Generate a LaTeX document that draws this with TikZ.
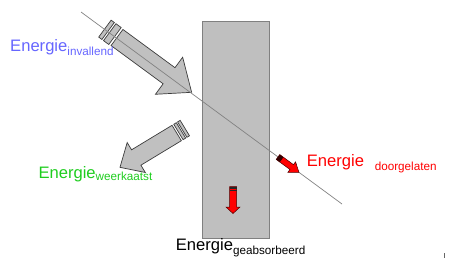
\documentclass[tikz,border=0pt]{standalone}
\usepackage{fontspec}
\setmainfont{Liberation Sans}
\definecolor{panelgray}{RGB}{191,191,191}
\definecolor{panelline}{RGB}{128,128,128}
\definecolor{arrowgray}{RGB}{192,192,192}
\definecolor{arrowline}{RGB}{60,60,60}
\definecolor{raygray}{RGB}{130,130,130}
\definecolor{txtblue}{RGB}{102,102,255}
\definecolor{txtgreen}{RGB}{30,205,30}
\definecolor{txtred}{RGB}{255,0,0}
\definecolor{arrowred}{RGB}{255,0,0}
\newcommand{\bigtxt}{\fontsize{16.6}{18}\selectfont}
\newcommand{\subtxt}{\fontsize{11.7}{13}\selectfont}
\begin{document}
\begin{tikzpicture}[x=1pt,y=-1pt,
  graybody/.style={fill=arrowgray,draw=arrowline,line width=0.7pt,line join=miter},
  redbody/.style={fill=arrowred,draw=black!70!red,line width=0.5pt},
  label/.style={inner sep=0pt,anchor=base west}]
\useasboundingbox (0,0) rectangle (472,258);
% panel
\draw[fill=panelgray,draw=panelline,line width=0.8pt] (202,21) rectangle (269,238);
% incident arrow
\begin{scope}[shift={(117,37.5)},rotate=-36.3]
  \draw[graybody] (0,-10) -- (64.6,-10) -- (64.6,-23) -- (92.6,0) -- (64.6,23) -- (64.6,10) -- (0,10) -- cycle;
  \draw[graybody] (-2.5,-10.5) rectangle (-9,10.5);
  \draw[graybody] (-11,-10.5) rectangle (-15,10.5);
\end{scope}
% reflected arrow
\begin{scope}[shift={(176.7,133)},rotate=-148.8]
  \draw[graybody] (0,-9) -- (47.3,-9) -- (47.3,-17.5) -- (66.3,0) -- (47.3,17.5) -- (47.3,9) -- (0,9) -- cycle;
  \draw[graybody] (-2,-9) rectangle (-5,9);
  \draw[graybody] (-6.5,-9) rectangle (-9.5,9);
\end{scope}
% ray
\coordinate (rayA) at (81,12);
\coordinate (rayB) at (342,204);
\draw[raygray,line width=0.7pt] (rayA) -- (rayB);
% absorbed arrow
\draw[redbody] (229.5,186.5) -- (236.5,186.5) -- (236.5,207) -- (240,207) -- (233,213.5) -- (226,207) -- (229.5,207) -- cycle;
\fill[black!85] (229.5,186.5) rectangle (236.5,188.7);
\fill[black!85] (229.5,190.2) rectangle (236.5,191.4);
% transmitted arrow
\begin{scope}[shift={(278,157)},rotate=-36.3]
  \draw[redbody] (0,-3) -- (17,-3) -- (17,-6.5) -- (26,0) -- (17,6.5) -- (17,3) -- (0,3) -- cycle;
  \fill[black!80!red] (0,-3) rectangle (4.5,3);
\end{scope}
% labels
\node[label,txtblue] (lin) at (10,51.7) {\bigtxt Energie\raisebox{-3.8pt}{\subtxt invallend}};
\node[label,txtgreen] (lrefl) at (38.3,178.3) {\bigtxt Energie\raisebox{-2.6pt}{\subtxt weerkaatst}};
\node[label,black] (labs) at (175.7,250) {\bigtxt Energie\raisebox{-4pt}{\subtxt geabsorbeerd}};
\node[label,txtred] (ltrans) at (306.7,166) {\bigtxt Energie\hspace{10.7pt}\raisebox{-4pt}{\subtxt doorgelaten}};
% small tick
\draw[black!60,line width=0.6pt] (444.3,253) -- (444.3,258);
\end{tikzpicture}
\end{document}
